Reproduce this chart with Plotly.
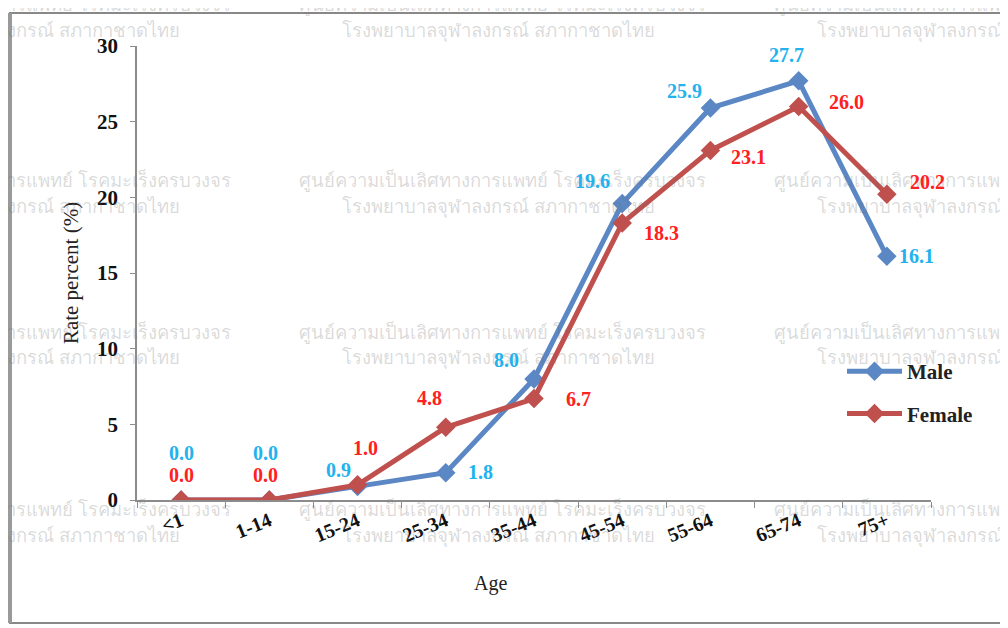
import plotly.graph_objects as go

ages = ["<1", "1-14", "15-24", "25-34", "35-44", "45-54", "55-64", "65-74", "75+"]
male = [0.0, 0.0, 0.9, 1.8, 8.0, 19.6, 25.9, 27.7, 16.1]
female = [0.0, 0.0, 1.0, 4.8, 6.7, 18.3, 23.1, 26.0, 20.2]

wm_line1 = "ศูนย์ความเป็นเลิศทางการแพทย์ โรคมะเร็งครบวงจร"
wm_line2 = "โรงพยาบาลจุฬาลงกรณ์ สภากาชาดไทย"

serif = "Liberation Serif, Times New Roman, serif"
male_line = "#5B87C4"
female_line = "#C0504D"
male_lbl = "#22B2EE"
female_lbl = "#FF2020"
wm_color = "rgba(110,110,110,0.26)"

# page has an 8px body margin, positions below are in screenshot pixels
OFF = 8
FW, FH = 1000, 620
# plot area in screenshot pixels: x 137..931, y 46..500
L, R, T, B = 137, 931, 46, 500
W, H = R - L, B - T


def px(x):
    return (x - L) / W


def py(y):
    return (B - y) / H


fig = go.Figure()
fig.add_trace(go.Scatter(x=ages, y=male, name="Male", mode="lines+markers",
                         legendgroup="m",
                         line=dict(color=male_line, width=5),
                         marker=dict(symbol="diamond", size=15, color=male_line)))
fig.add_trace(go.Scatter(x=ages, y=female, name="Female", mode="lines+markers",
                         legendgroup="f",
                         line=dict(color=female_line, width=5),
                         marker=dict(symbol="diamond", size=15, color=female_line)))

ann = []

# watermark (light grey, repeated)
for col in (-178, 297, 772):
    for row in (4, 180, 332, 509):
        ann.append(dict(xref="paper", yref="paper", x=px(col), y=py(row),
                        xanchor="left", yanchor="middle", showarrow=False,
                        text=wm_line1, font=dict(size=18.5, color=wm_color)))
        ann.append(dict(xref="paper", yref="paper", x=px(col + 43), y=py(row + 27),
                        xanchor="left", yanchor="middle", showarrow=False,
                        text=wm_line2, font=dict(size=18.5, color=wm_color)))

# data label offsets (px) from each marker
male_off = [(0, 47), (-4, 47), (-19, 16), (35, 1), (-28, 19), (-30, 22), (-26, 17), (-12, 26), (30, 0)]
female_off = [(0, 25), (-4, 25), (8, 37), (-16, 29), (44, 0), (39, -10), (38, -7), (48, 5), (41, 12)]

for i, a in enumerate(ages):
    dx, dy = male_off[i]
    ann.append(dict(x=a, y=male[i], xref="x", yref="y", showarrow=False,
                    text="%.1f" % male[i], xshift=dx, yshift=dy,
                    font=dict(family=serif, size=20, color=male_lbl, weight="bold")))
    dx, dy = female_off[i]
    ann.append(dict(x=a, y=female[i], xref="x", yref="y", showarrow=False,
                    text="%.1f" % female[i], xshift=dx, yshift=dy,
                    font=dict(family=serif, size=20, color=female_lbl, weight="bold")))

ann.append(dict(xref="paper", yref="paper", x=px(490), y=py(583), showarrow=False,
                xanchor="center", yanchor="middle",
                text="Age", font=dict(family=serif, size=20, color="#222")))

fig.update_layout(
    width=FW, height=FH,
    margin=dict(l=L - OFF, r=FW - (R - OFF), t=T - OFF, b=FH - (B - OFF)),
    paper_bgcolor="white", plot_bgcolor="white",
    font=dict(family=serif, color="#111"),
    annotations=ann,
    showlegend=True,
    legend=dict(x=px(842), y=py(351), xanchor="left", yanchor="top",
                bgcolor="rgba(0,0,0,0)", tracegroupgap=12, itemwidth=55,
                traceorder="grouped",
                font=dict(family=serif, size=21, color="#222", weight="bold")),
    # outer frame of the chart
    shapes=[dict(type="rect", xref="paper", yref="paper",
                 x0=px(10), x1=px(1001), y0=py(623), y1=py(13),
                 line=dict(color="#888888", width=2), layer="above"),
            dict(type="line", xref="paper", yref="paper",
                 x0=px(10), x1=px(10), y0=py(623), y1=py(13),
                 line=dict(color="#9a9a9a", width=4), layer="above")],
    xaxis=dict(range=[-0.5, 8.5], showgrid=False, zeroline=False, showline=True,
               linecolor="#8c8c8c", linewidth=1.5, ticks="outside", ticklen=6,
               tickcolor="#8c8c8c", tickson="boundaries", tickangle=-22,
               tickfont=dict(family=serif, size=20, color="#111", weight="bold")),
    yaxis=dict(range=[0, 30], dtick=5, showgrid=False, zeroline=False, showline=True,
               linecolor="#8c8c8c", linewidth=1.5, ticks="outside", ticklen=5,
               tickcolor="#8c8c8c", ticklabelstandoff=8,
               tickfont=dict(family=serif, size=21, color="#111", weight="bold"),
               title=dict(text="Rate percent (%)", standoff=13,
                          font=dict(family=serif, size=21, color="#222"))),
)

fig.write_html("out.html")
